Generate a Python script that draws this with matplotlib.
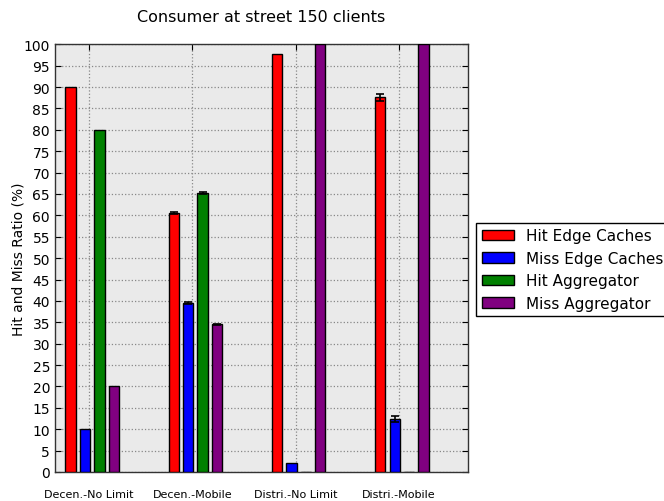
import matplotlib
matplotlib.use("Agg")
import matplotlib.pyplot as plt
import numpy as np

scenarios = ["Decen.-No Limit", "Decen.-Mobile", "Distri.-No Limit", "Distri.-Mobile"]
series_names = ["Hit Edge Caches", "Miss Edge Caches", "Hit Aggregator", "Miss Aggregator"]
series_colors = ["#ff0000", "#0000ff", "#008000", "#800080"]

hit_edge = [90.0, 60.5, 97.8, 87.6]
miss_edge = [10.0, 39.5, 2.0, 12.3]
hit_aggr = [80.0, 65.3, 0.0, 0.0]
miss_aggr = [20.0, 34.5, 100.0, 100.0]

hit_edge_err = [0.0, 0.2, 0.0, 0.8]
miss_edge_err = [0.0, 0.2, 0.0, 0.7]
hit_aggr_err = [0.0, 0.2, 0.0, 0.0]
miss_aggr_err = [0.0, 0.2, 0.0, 0.0]

values = [hit_edge, miss_edge, hit_aggr, miss_aggr]
errors = [hit_edge_err, miss_edge_err, hit_aggr_err, miss_aggr_err]

fig = plt.figure(figsize=(6.64, 5.02), dpi=100)
ax = fig.add_axes([0.0828, 0.0578, 0.622, 0.852])
ax.set_facecolor("#eaeaea")

ind = np.arange(len(scenarios))
width = 0.1
offsets = [-0.18, -0.04, 0.10, 0.24]
for vals, errs, name, col, off in zip(values, errors, series_names, series_colors, offsets):
    x = ind + off
    vals = np.asarray(vals)
    errs = np.asarray(errs)
    ax.bar(x, vals, width, color=col, edgecolor="black", linewidth=1.0,
           label=name, zorder=3)
    has_err = errs > 0
    if has_err.any():
        ax.errorbar(x[has_err], vals[has_err], yerr=errs[has_err], fmt="none",
                    ecolor="black", elinewidth=1.2, capsize=3, capthick=1.2, zorder=4)

ax.set_xlim(-0.33, 3.67)
ax.set_ylim(0, 100)
ax.set_yticks(np.arange(0, 101, 5))
ax.set_xticks(ind)
ax.set_xticklabels(scenarios, fontsize=8)
ax.tick_params(axis="x", pad=12, direction="in", length=4, top=True)
ax.tick_params(axis="y", labelsize=10, direction="in", length=4, right=True)
ax.grid(True, color="#888888", linestyle=":", linewidth=0.9, zorder=0)
ax.set_axisbelow(True)
for s in ax.spines.values():
    s.set_color("#333333")
    s.set_linewidth(1.0)

ax.set_ylabel("Hit and Miss Ratio (%)", fontsize=10, labelpad=-1)
ax.set_title("Consumer at street 150 clients", fontsize=11.5, pad=17)

leg = ax.legend(loc="center left", bbox_to_anchor=(1.02, 0.473), fontsize=11,
                fancybox=False, framealpha=1, edgecolor="black", handlelength=2.1,
                handletextpad=0.8, borderpad=0.35, borderaxespad=0.0,
                labelspacing=0.5)
leg.get_frame().set_linewidth(1.0)

fig.savefig("out.png", dpi=100)
